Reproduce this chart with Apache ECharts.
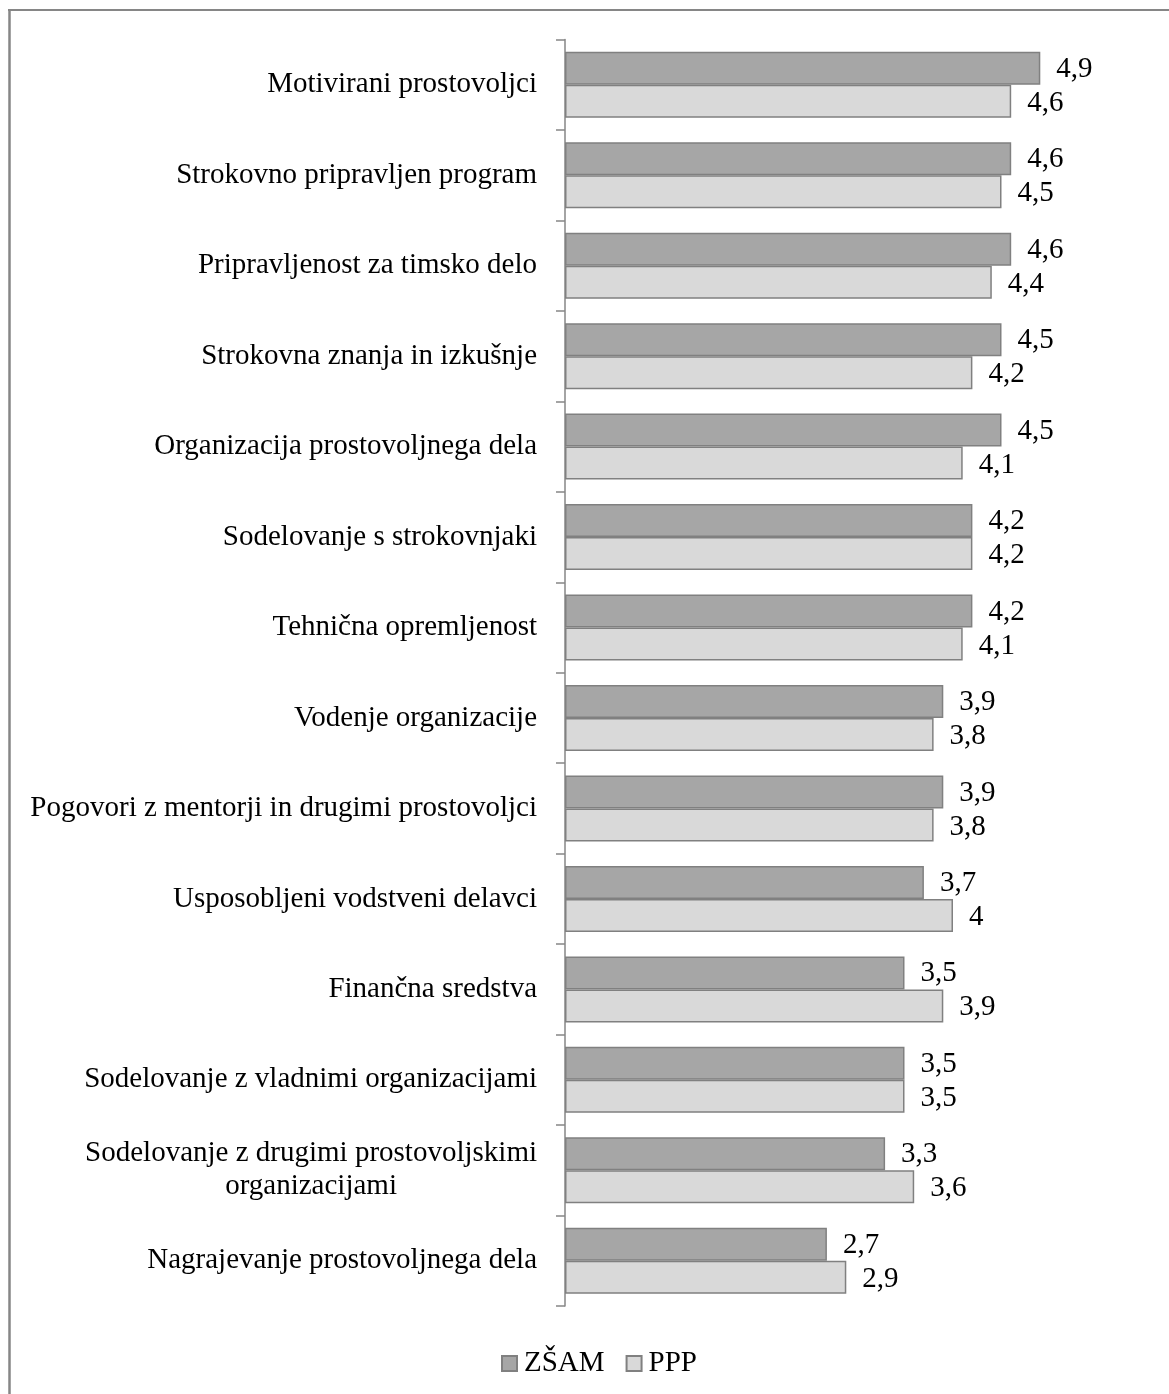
<!DOCTYPE html>
<html>
<head>
<meta charset="utf-8">
<script src="https://cdn.jsdelivr.net/npm/echarts@6/dist/echarts.min.js"></script>
<style>
html,body{margin:0;padding:0;background:#fff;}
#c{width:1169px;height:1394px;}
</style>
</head>
<body>
<div id="c"></div>
<script>
var categories = [
  'Motivirani prostovoljci',
  'Strokovno pripravljen program',
  'Pripravljenost za timsko delo',
  'Strokovna znanja in izkušnje',
  'Organizacija prostovoljnega dela',
  'Sodelovanje s strokovnjaki',
  'Tehnična opremljenost',
  'Vodenje organizacije',
  'Pogovori z mentorji in drugimi prostovoljci',
  'Usposobljeni vodstveni delavci',
  'Finančna sredstva',
  'Sodelovanje z vladnimi organizacijami',
  'Sodelovanje z drugimi prostovoljskimi\norganizacijami',
  'Nagrajevanje prostovoljnega dela'
];
var seriesNames = ['ZŠAM', 'PPP'];
var zsam = [4.9, 4.6, 4.6, 4.5, 4.5, 4.2, 4.2, 3.9, 3.9, 3.7, 3.5, 3.5, 3.3, 2.7];
var ppp  = [4.6, 4.5, 4.4, 4.2, 4.1, 4.2, 4.1, 3.8, 3.8, 4.0, 3.9, 3.5, 3.6, 2.9];

var FONT = "'Liberation Serif', 'Times New Roman', serif";
var chart = echarts.init(document.getElementById('c'), null, {renderer: 'canvas'});

function fmtVal(p) { return String(p.value).replace('.', ','); }

var option = {
  animation: false,
  backgroundColor: '#ffffff',
  textStyle: { fontFamily: FONT, color: '#000' },
  grid: { left: 565, right: 119, top: 39.5, bottom: 88, containLabel: false },
  xAxis: {
    type: 'value', min: 0, max: 5, show: false
  },
  yAxis: {
    type: 'category',
    data: categories,
    inverse: true,
    axisLine: { show: true, lineStyle: { color: '#868686', width: 1.5 } },
    axisTick: { show: true, length: 9, lineStyle: { color: '#868686', width: 1.5 } },
    axisLabel: {
      margin: 28,
      fontFamily: FONT,
      fontSize: 29,
      color: '#000',
      lineHeight: 33,
      formatter: function (v) {
        return v.split('\n').map(function (s) { return '{c|' + s + '}'; }).join('\n');
      },
      rich: { c: { align: 'center', fontFamily: FONT, fontSize: 29, color: '#000', lineHeight: 33 } }
    }
  },
  legend: {
    data: seriesNames,
    left: 501,
    top: 1349,
    padding: 0,
    itemWidth: 15,
    itemHeight: 15,
    itemGap: 21,
    icon: 'rect',
    textStyle: { fontFamily: FONT, fontSize: 29, color: '#000', padding: [0, 0, 0, 2] }
  },
  series: [
    {
      name: seriesNames[0], type: 'bar', data: zsam,
      barWidth: 33, barGap: '0%',
      itemStyle: { color: '#a6a6a6', borderColor: '#808080', borderWidth: 1.5 },
      label: { show: true, position: 'right', distance: 16, formatter: fmtVal,
               fontFamily: FONT, fontSize: 29, color: '#000', offset: [0, 1] }
    },
    {
      name: seriesNames[1], type: 'bar', data: ppp,
      barWidth: 33, barGap: '0%',
      itemStyle: { color: '#d9d9d9', borderColor: '#808080', borderWidth: 1.5 },
      label: { show: true, position: 'right', distance: 16, formatter: fmtVal,
               fontFamily: FONT, fontSize: 29, color: '#000', offset: [0, 2] }
    }
  ],
  graphic: [
    { type: 'line', shape: { x1: 8, y1: 10, x2: 1169, y2: 10 }, style: { stroke: '#868686', lineWidth: 2 } },
    { type: 'line', shape: { x1: 9.5, y1: 9, x2: 9.5, y2: 1394 }, style: { stroke: '#868686', lineWidth: 2.5 } }
  ]
};
chart.setOption(option);
</script>
</body>
</html>
